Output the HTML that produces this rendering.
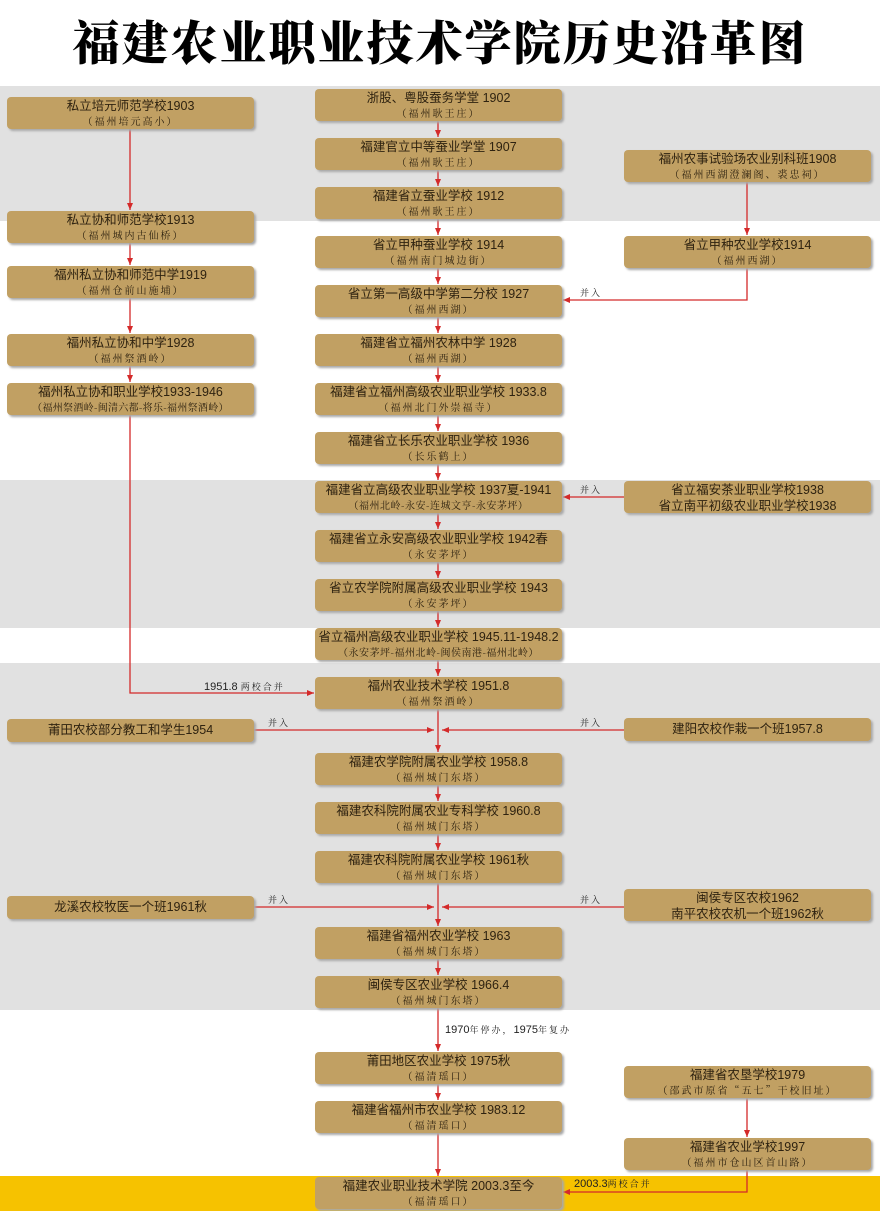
<!DOCTYPE html>
<html><head><meta charset="utf-8"><style>
body{margin:0;width:880px;height:1211px;position:relative;background:#fff;overflow:hidden;font-family:"Liberation Sans","Noto Sans CJK SC",sans-serif;}
.band{position:absolute;left:0;width:880px;background:#e1e1e1;}
.b{position:absolute;width:247px;height:32px;background:#c1a063;border-radius:4px;box-shadow:2px 2px 2px #a8a8a8;text-align:center;color:#2e2210;font-size:12.5px;line-height:15px;}
.b .m{padding-top:2px;}
.b .s{font-family:"Noto Serif CJK SC",serif;font-size:10px;letter-spacing:2px;line-height:14px;}
.b.one{height:23px;line-height:23px;}
.b.one .m{padding-top:0;line-height:23px}
.c{left:315px}.l{left:7px}.r{left:624px}
.t{position:absolute;font-size:11px;color:#222;white-space:nowrap}
.k{font-family:"Noto Serif CJK SC",serif;font-size:9px;letter-spacing:2px}
h1{position:absolute;top:6px;left:0;width:880px;margin:0;text-align:center;font-family:"Noto Serif CJK SC",serif;font-weight:900;font-size:47px;letter-spacing:2px;color:#000;line-height:70px}
svg{position:absolute;left:0;top:0}
</style></head><body>
<h1>福建农业职业技术学院历史沿革图</h1>
<div class="band" style="top:86px;height:135px"></div>
<div class="band" style="top:480px;height:148px"></div>
<div class="band" style="top:663px;height:347px"></div>
<div class="band" style="top:1176px;height:35px;background:#f6c200"></div>
<svg width="880" height="1211">
<defs><marker id="a" markerWidth="8" markerHeight="8" refX="7" refY="4" orient="auto" markerUnits="userSpaceOnUse"><path d="M0,1 L7,4 L0,7 z" fill="#d42a2a"/></marker></defs>
<g stroke="#d42a2a" stroke-width="1.3" fill="none" marker-end="url(#a)">
<line x1="438" y1="121" x2="438" y2="137"/>
<line x1="438" y1="170" x2="438" y2="186"/>
<line x1="438" y1="219" x2="438" y2="235"/>
<line x1="438" y1="268" x2="438" y2="284"/>
<line x1="438" y1="317" x2="438" y2="333"/>
<line x1="438" y1="366" x2="438" y2="382"/>
<line x1="438" y1="415" x2="438" y2="431"/>
<line x1="438" y1="464" x2="438" y2="480"/>
<line x1="438" y1="513" x2="438" y2="529"/>
<line x1="438" y1="562" x2="438" y2="578"/>
<line x1="438" y1="611" x2="438" y2="627"/>
<line x1="438" y1="660" x2="438" y2="676"/>
<line x1="438" y1="709" x2="438" y2="752"/>
<line x1="438" y1="785" x2="438" y2="801"/>
<line x1="438" y1="834" x2="438" y2="850"/>
<line x1="438" y1="883" x2="438" y2="926"/>
<line x1="438" y1="959" x2="438" y2="975"/>
<line x1="438" y1="1008" x2="438" y2="1051"/>
<line x1="438" y1="1084" x2="438" y2="1100"/>
<line x1="438" y1="1133" x2="438" y2="1176"/>
<line x1="130" y1="129" x2="130" y2="210"/>
<line x1="130" y1="243" x2="130" y2="265"/>
<line x1="130" y1="298" x2="130" y2="333"/>
<line x1="130" y1="366" x2="130" y2="382"/>
<polyline points="130,415 130,693 314,693"/>
<line x1="747" y1="182" x2="747" y2="235"/>
<polyline points="747,268 747,300 563,300"/>
<line x1="624" y1="497" x2="563" y2="497"/>
<line x1="254" y1="730" x2="434" y2="730"/>
<line x1="624" y1="730" x2="442" y2="730"/>
<line x1="254" y1="907" x2="434" y2="907"/>
<line x1="624" y1="907" x2="442" y2="907"/>
<line x1="747" y1="1098" x2="747" y2="1137"/>
<polyline points="747,1170 747,1192 563,1192"/>
</g></svg>

<div class="b c" style="top:89px"><div class="m">浙股、粤股蚕务学堂 1902</div><div class="s">（福州耿王庄）</div></div>
<div class="b c" style="top:138px"><div class="m">福建官立中等蚕业学堂 1907</div><div class="s">（福州耿王庄）</div></div>
<div class="b c" style="top:187px"><div class="m">福建省立蚕业学校 1912</div><div class="s">（福州耿王庄）</div></div>
<div class="b c" style="top:236px"><div class="m">省立甲种蚕业学校 1914</div><div class="s">（福州南门城边街）</div></div>
<div class="b c" style="top:285px"><div class="m">省立第一高级中学第二分校 1927</div><div class="s">（福州西湖）</div></div>
<div class="b c" style="top:334px"><div class="m">福建省立福州农林中学 1928</div><div class="s">（福州西湖）</div></div>
<div class="b c" style="top:383px"><div class="m">福建省立福州高级农业职业学校 1933.8</div><div class="s">（福州北门外崇福寺）</div></div>
<div class="b c" style="top:432px"><div class="m">福建省立长乐农业职业学校 1936</div><div class="s">（长乐鹤上）</div></div>
<div class="b c" style="top:481px"><div class="m">福建省立高级农业职业学校 1937夏-1941</div><div class="s" style="letter-spacing:0.5px">（福州北岭-永安-连城文亨-永安茅坪）</div></div>
<div class="b c" style="top:530px"><div class="m">福建省立永安高级农业职业学校 1942春</div><div class="s">（永安茅坪）</div></div>
<div class="b c" style="top:579px"><div class="m">省立农学院附属高级农业职业学校 1943</div><div class="s">（永安茅坪）</div></div>
<div class="b c" style="top:628px"><div class="m">省立福州高级农业职业学校 1945.11-1948.2</div><div class="s" style="letter-spacing:0.5px">（永安茅坪-福州北岭-闽侯南港-福州北岭）</div></div>
<div class="b c" style="top:677px"><div class="m">福州农业技术学校 1951.8</div><div class="s">（福州祭酒岭）</div></div>
<div class="b c" style="top:753px"><div class="m">福建农学院附属农业学校 1958.8</div><div class="s">（福州城门东塔）</div></div>
<div class="b c" style="top:802px"><div class="m">福建农科院附属农业专科学校 1960.8</div><div class="s">（福州城门东塔）</div></div>
<div class="b c" style="top:851px"><div class="m">福建农科院附属农业学校 1961秋</div><div class="s">（福州城门东塔）</div></div>
<div class="b c" style="top:927px"><div class="m">福建省福州农业学校 1963</div><div class="s">（福州城门东塔）</div></div>
<div class="b c" style="top:976px"><div class="m">闽侯专区农业学校 1966.4</div><div class="s">（福州城门东塔）</div></div>
<div class="b c" style="top:1052px"><div class="m">莆田地区农业学校 1975秋</div><div class="s">（福清瑶口）</div></div>
<div class="b c" style="top:1101px"><div class="m">福建省福州市农业学校 1983.12</div><div class="s">（福清瑶口）</div></div>
<div class="b c" style="top:1177px"><div class="m">福建农业职业技术学院 2003.3至今</div><div class="s">（福清瑶口）</div></div>

<div class="b l" style="top:97px"><div class="m">私立培元师范学校1903</div><div class="s">（福州培元高小）</div></div>
<div class="b l" style="top:211px"><div class="m">私立协和师范学校1913</div><div class="s">（福州城内古仙桥）</div></div>
<div class="b l" style="top:266px"><div class="m">福州私立协和师范中学1919</div><div class="s">（福州仓前山施埔）</div></div>
<div class="b l" style="top:334px"><div class="m">福州私立协和中学1928</div><div class="s">（福州祭酒岭）</div></div>
<div class="b l" style="top:383px"><div class="m">福州私立协和职业学校1933-1946</div><div class="s" style="letter-spacing:0.3px">（福州祭酒岭-闽清六都-将乐-福州祭酒岭）</div></div>
<div class="b l one" style="top:719px"><div class="m">莆田农校部分教工和学生1954</div></div>
<div class="b l one" style="top:896px"><div class="m">龙溪农校牧医一个班1961秋</div></div>

<div class="b r" style="top:150px"><div class="m">福州农事试验场农业别科班1908</div><div class="s">（福州西湖澄澜阁、裘忠祠）</div></div>
<div class="b r" style="top:236px"><div class="m">省立甲种农业学校1914</div><div class="s">（福州西湖）</div></div>
<div class="b r" style="top:481px"><div class="m">省立福安茶业职业学校1938</div><div class="m" style="padding-top:1px">省立南平初级农业职业学校1938</div></div>
<div class="b r one" style="top:718px"><div class="m">建阳农校作栽一个班1957.8</div></div>
<div class="b r" style="top:889px"><div class="m">闽侯专区农校1962</div><div class="m" style="padding-top:1px">南平农校农机一个班1962秋</div></div>
<div class="b r" style="top:1066px"><div class="m">福建省农垦学校1979</div><div class="s">（邵武市原省“五七”干校旧址）</div></div>
<div class="b r" style="top:1138px"><div class="m">福建省农业学校1997</div><div class="s">（福州市仓山区首山路）</div></div>

<div class="t k" style="left:580px;top:286px">并入</div>
<div class="t k" style="left:580px;top:483px">并入</div>
<div class="t" style="left:204px;top:680px">1951.8 <span class="k">两校合并</span></div>
<div class="t k" style="left:268px;top:716px">并入</div>
<div class="t k" style="left:580px;top:716px">并入</div>
<div class="t k" style="left:268px;top:893px">并入</div>
<div class="t k" style="left:580px;top:893px">并入</div>
<div class="t" style="left:445px;top:1023px">1970<span class="k">年停办，</span>1975<span class="k">年复办</span></div>
<div class="t" style="left:574px;top:1177px">2003.3<span class="k">两校合并</span></div>
</body></html>
